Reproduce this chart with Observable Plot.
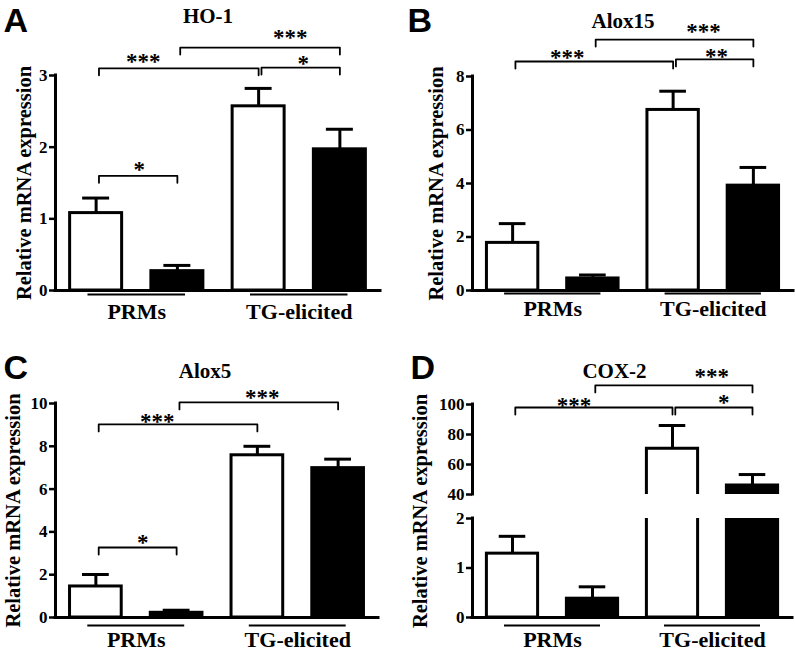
<!DOCTYPE html>
<html>
<head>
<meta charset="utf-8">
<script src="https://cdn.jsdelivr.net/npm/d3@7"></script>
<script src="https://cdn.jsdelivr.net/npm/@observablehq/plot@0.6"></script>
<style>
  html, body { margin: 0; padding: 0; background: #ffffff; }
  #chart { position: relative; width: 795px; height: 652px; overflow: hidden; background: #ffffff; }
  #chart svg { position: absolute; }
</style>
</head>
<body>
<div id="chart"></div>
<script>
// ---------------- data ----------------
const conditions = ["PRMs (open)", "PRMs (filled)", "TG-elicited (open)", "TG-elicited (filled)"];
const groupNames = ["PRMs", "TG-elicited"];
const yLabel = "Relative mRNA expression";

// Panel A: HO-1
const ho1Mean = [1.08, 0.27, 2.57, 1.97];
const ho1Sem  = [0.21, 0.08, 0.25, 0.28];
const ho1Ticks = [0, 1, 2, 3];
const ho1Sig = [
  {from: 0, to: 2, level: 3.10, label: "***", labelX: 1.08, labelY: 3.24},
  {from: 2, to: 3, level: 3.11, label: "*",   labelX: 3.05, labelY: 3.22},
  {from: 1, to: 3, level: 3.39, label: "***", labelX: 2.89, labelY: 3.58},
  {from: 0, to: 1, level: 1.60, label: "*",   labelX: 1.03, labelY: 1.73}
];

// Panel B: Alox15
const alox15Mean = [1.78, 0.45, 6.75, 3.92];
const alox15Sem  = [0.72, 0.13, 0.70, 0.68];
const alox15Ticks = [0, 2, 4, 6, 8];
const alox15Sig = [
  {from: 0, to: 2, level: 8.56, label: "***", labelX: 1.18, labelY: 8.82},
  {from: 2, to: 3, level: 8.64, label: "**",  labelX: 3.04, labelY: 8.88},
  {from: 1, to: 3, level: 9.38, label: "***", labelX: 2.88, labelY: 9.81}
];

// Panel C: Alox5
const alox5Mean = [1.45, 0.22, 7.58, 6.98];
const alox5Sem  = [0.56, 0.12, 0.42, 0.42];
const alox5Ticks = [0, 2, 4, 6, 8, 10];
const alox5Sig = [
  {from: 0, to: 2, level: 9.02,  label: "***", labelX: 1.26, labelY: 9.30},
  {from: 1, to: 3, level: 10.05, label: "***", labelX: 2.56, labelY: 10.42},
  {from: 0, to: 1, level: 3.27,  label: "*",   labelX: 1.08, labelY: 3.64}
];

// Panel D: COX-2 (broken y axis)
const cox2Mean = [1.29, 0.38, 70.5, 46.0];
const cox2Sem  = [0.35, 0.24, 15.5, 7.3];
const cox2TicksLow  = [0, 1, 2];
const cox2TicksHigh = [40, 60, 80, 100];
const cox2Sig = [
  {from: 0, to: 2, level: 98.0,  label: "***", labelX: 1.27, labelY: 101.3},
  {from: 2, to: 3, level: 98.0,  label: "*",   labelX: 3.14, labelY: 103.3},
  {from: 1, to: 3, level: 112.7, label: "***", labelX: 2.99, labelY: 121.0}
];

// ---------------- styles / layout ----------------
const serif = "'Liberation Serif', 'Times New Roman', serif";
const sans = "'Liberation Sans', Arial, sans-serif";
const HALF = 0.32;   // half bar width (x units)
const CAP = 0.166;   // half error cap width (x units)
const chart = document.getElementById("chart");

function makePlot(p) {
  const rows = p.mean.map((m, i) => ({cond: conditions[i], group: groupNames[i >> 1], i, mean: m, top: m + p.sem[i], filled: i % 2 === 1}));
  const frameH = p.height - p.mT - p.mB;
  const drop = 7 * (p.domain[1] - p.domain[0]) / frameH;
  const clip = true;
  const marks = [];

  // error bars (upper SEM only)
  marks.push(Plot.ruleX(rows, {x: d => d.i + 0.5, y1: "mean", y2: "top", stroke: "black", strokeWidth: 3, clip}));
  marks.push(Plot.ruleY(rows, {x1: d => d.i + 0.5 - CAP, x2: d => d.i + 0.5 + CAP, y: "top", stroke: "black", strokeWidth: 3, clip}));
  // bars
  marks.push(Plot.rect(rows.filter(d => !d.filled), {x1: d => d.i + 0.5 - HALF, x2: d => d.i + 0.5 + HALF, y1: 0, y2: "mean", fill: "white", stroke: "black", strokeWidth: 3, clip}));
  marks.push(Plot.rect(rows.filter(d => d.filled), {x1: d => d.i + 0.5 - HALF, x2: d => d.i + 0.5 + HALF, y1: 0, y2: "mean", fill: "black", stroke: "black", strokeWidth: 3, clip}));

  // y axis
  marks.push(Plot.axisY({ticks: p.ticks, tickSize: 6, tickPadding: 2, tickFormat: d => String(d), strokeWidth: 2.5,
    fontSize: 17, fontWeight: "bold", fontFamily: serif, label: null}));
  marks.push(Plot.ruleX([0], {stroke: "black", strokeWidth: 3, strokeLinecap: "square"}));
  if (p.xAxis) marks.push(Plot.ruleY([p.domain[0]], {stroke: "black", strokeWidth: 3, strokeLinecap: "square"}));

  // group underlines and labels
  if (p.groups) {
    marks.push(Plot.ruleY(groupNames, {x1: (d, i) => 2 * i + 1 - 0.6, x2: (d, i) => 2 * i + 1 + 0.6, y: p.domain[0], dy: p.gLineDy, stroke: "black", strokeWidth: 2}));
    marks.push(Plot.text(groupNames, {x: (d, i) => 2 * i + 1, text: d => d, frameAnchor: "bottom", lineAnchor: "bottom", dy: p.gLabelDy,
      fontSize: 22, fontWeight: "bold", fontFamily: serif}));
  }
  // significance brackets
  if (p.sig) {
    const pts = p.sig.flatMap((b, k) => {
      const x1 = b.from + 0.535, x2 = b.to + 0.5;
      return [[x1, b.level - drop], [x1, b.level], [x2, b.level], [x2, b.level - drop]].map(([x, y]) => ({x, y, k}));
    });
    marks.push(Plot.line(pts, {x: "x", y: "y", z: "k", stroke: "black", strokeWidth: 1.8}));
    marks.push(Plot.text(p.sig, {x: "labelX", y: "labelY", text: "label", dy: 3.5, fontSize: 23, fontWeight: "bold", fontFamily: serif}));
  }
  if (p.title) {
    marks.push(Plot.text([p.title], {text: d => d, frameAnchor: "top", textAnchor: "middle", lineAnchor: "bottom", dx: p.titleDx, dy: p.titleDy,
      fontSize: 21, fontWeight: "bold", fontFamily: serif}));
  }
  if (p.letter) {
    marks.push(Plot.text([p.letter], {text: d => d, frameAnchor: "top-left", textAnchor: "start", lineAnchor: "bottom", dx: p.letterDx, dy: p.letterDy,
      fontSize: 34, fontWeight: "bold", fontFamily: sans}));
  }
  if (p.ylabel) {
    marks.push(Plot.text([yLabel], {text: d => d, frameAnchor: "left", rotate: -90, textAnchor: "middle", lineAnchor: "middle", dx: p.ylabelDx, dy: p.ylabelDy,
      fontSize: 20.5, fontWeight: "bold", fontFamily: serif}));
  }

  const svg = Plot.plot({
    width: p.width, height: p.height,
    marginLeft: p.mL, marginRight: p.mR, marginTop: p.mT, marginBottom: p.mB,
    x: {type: "linear", domain: [0, 4], axis: null},
    y: {type: "linear", domain: p.domain, axis: null},
    style: {background: "transparent", fontFamily: serif, fontWeight: "bold", fontSize: "16px", color: "black", overflow: "visible"},
    marks
  });
  svg.style.position = "absolute";
  svg.style.left = p.left + "px";
  svg.style.top = p.top + "px";
  chart.append(svg);
}

// Panel A
makePlot({mean: ho1Mean, sem: ho1Sem, ticks: ho1Ticks, domain: [0, 3], sig: ho1Sig, title: "HO-1", letter: "A",
  left: 0, top: 0, width: 397, height: 326, mL: 55, mR: 17, mT: 75, mB: 36,
  xAxis: true, groups: true, ylabel: true, gLineDy: 4, gLabelDy: 28, titleDx: -10, titleDy: -53,
  letterDx: -52, letterDy: -44, ylabelDx: -31, ylabelDy: 0});

// Panel B
makePlot({mean: alox15Mean, sem: alox15Sem, ticks: alox15Ticks, domain: [0, 8], sig: alox15Sig, title: "Alox15", letter: "B",
  left: 397, top: 0, width: 398, height: 326, mL: 75, mR: 2, mT: 76, mB: 36,
  xAxis: true, groups: true, ylabel: true, gLineDy: 3, gLabelDy: 25, titleDx: -10, titleDy: -49,
  letterDx: -65, letterDy: -45, ylabelDx: -36, ylabelDy: 0});

// Panel C
makePlot({mean: alox5Mean, sem: alox5Sem, ticks: alox5Ticks, domain: [0, 10], sig: alox5Sig, title: "Alox5", letter: "C",
  left: 0, top: 326, width: 397, height: 326, mL: 55, mR: 19, mT: 77, mB: 35,
  xAxis: true, groups: true, ylabel: true, gLineDy: 8, gLabelDy: 29, titleDx: -12, titleDy: -26,
  letterDx: -52, letterDy: -25, ylabelDx: -42, ylabelDy: 0});

// Panel D: upper segment (40–100)
makePlot({mean: cox2Mean, sem: cox2Sem, ticks: cox2TicksHigh, domain: [40, 100], sig: cox2Sig, title: "COX-2", letter: "D",
  left: 397, top: 326, width: 398, height: 326, mL: 75, mR: 3, mT: 78, mB: 158,
  xAxis: false, groups: false, ylabel: false, titleDx: -18, titleDy: -27, letterDx: -62, letterDy: -26});

// Panel D: lower segment (0–2)
makePlot({mean: cox2Mean, sem: cox2Sem, ticks: cox2TicksLow, domain: [0, 2], sig: null, title: null, letter: null,
  left: 397, top: 326, width: 398, height: 326, mL: 75, mR: 3, mT: 192, mB: 35,
  xAxis: true, groups: true, ylabel: true, gLineDy: 8, gLabelDy: 29, ylabelDx: -52, ylabelDy: -57});
</script>
</body>
</html>
